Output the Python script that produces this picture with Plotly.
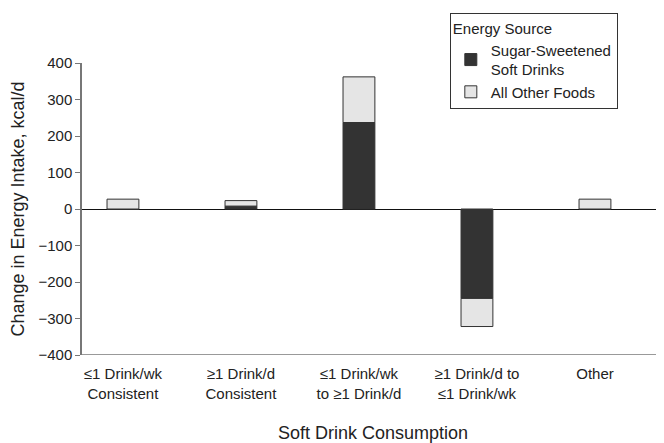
import plotly.graph_objects as go

categories = ["≤1 Drink/wk<br>Consistent", "≥1 Drink/d<br>Consistent", "≤1 Drink/wk<br>to ≥1 Drink/d",
              "≥1 Drink/d to<br>≤1 Drink/wk", "Other"]
ssb_values = [0, 8, 237, -245, 0]
other_values = [27, 15, 125, -77, 27]
y_ticks = [-400, -300, -200, -100, 0, 100, 200, 300, 400]

xpos = list(range(len(categories)))
font = "Liberation Sans, Arial, sans-serif"

fig = go.Figure()
fig.add_trace(go.Bar(x=xpos, y=ssb_values, name="Sugar-Sweetened<br>Soft Drinks", legendgroup="a",
                     marker=dict(color="#333333", line=dict(color="#333333", width=1)), width=0.27))
fig.add_trace(go.Bar(x=xpos, y=other_values, name="All Other Foods", legendgroup="b",
                     marker=dict(color="#e5e5e5", line=dict(color="#333333", width=1)), width=0.27))

fig.update_layout(
    barmode="relative",
    width=656, height=435,
    margin=dict(l=74, r=0, t=55, b=88, autoexpand=False),
    plot_bgcolor="white", paper_bgcolor="white",
    font=dict(family=font, size=15, color="#222222"),
    legend=dict(title=dict(text="Energy Source", font=dict(size=15)),
                x=0.632, y=1.171, xanchor="left", yanchor="top",
                bordercolor="#333333", borderwidth=1, bgcolor="white",
                traceorder="normal", font=dict(size=15), itemwidth=30,
                tracegroupgap=3),
    xaxis=dict(range=[-0.347, 4.585], tickmode="array", tickvals=xpos, ticktext=categories,
               showline=False, ticks="", showgrid=False, zeroline=False, ticklabelstandoff=8,
               title=dict(text="Soft Drink Consumption", standoff=26), tickfont=dict(size=15)),
    yaxis=dict(range=[-400, 400], tickvals=y_ticks, showline=True, linecolor="#777777", linewidth=1.5,
               ticks="outside", ticklen=5, tickcolor="#777777", showgrid=False,
               zeroline=True, zerolinecolor="#111111", zerolinewidth=1.2,
               title=dict(text="Change in Energy Intake, kcal/d", standoff=10), tickfont=dict(size=15)),
)
fig.add_shape(type="line", xref="paper", yref="y", x0=0, x1=1, y0=-400, y1=-400,
              line=dict(color="#777777", width=1.5))
fig.write_html("out.html")
